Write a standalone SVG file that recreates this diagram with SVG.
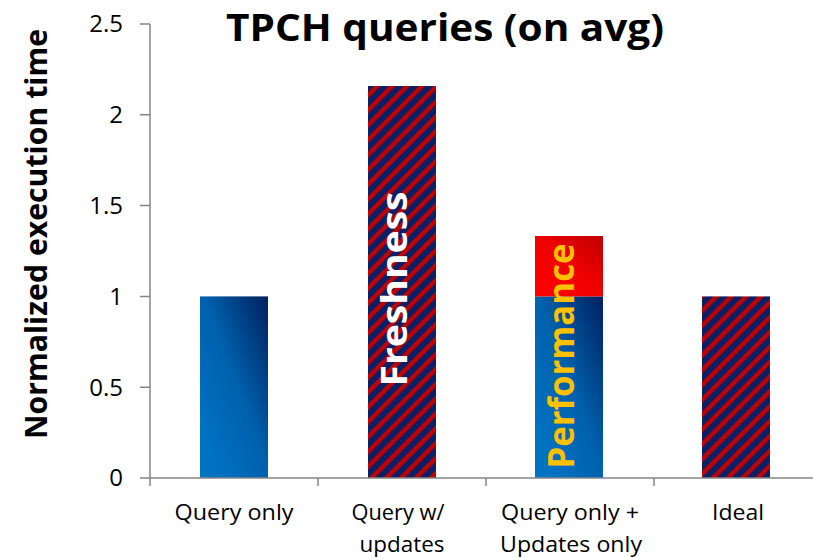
<svg xmlns="http://www.w3.org/2000/svg" width="813" height="557" viewBox="0 0 813 557">
<style>
.ax{stroke:#868686;stroke-width:1.5;fill:none}
.tick{font-family:"Open Sans","Liberation Sans",sans-serif;font-size:24px;fill:#000;text-anchor:end}
.cat{font-family:"Open Sans","Liberation Sans",sans-serif;font-size:22px;fill:#000;text-anchor:middle}
.title{font-family:"Open Sans","Liberation Sans",sans-serif;font-weight:bold;fill:#000}
.inbar{font-family:"Open Sans","Liberation Sans",sans-serif;font-weight:bold;text-anchor:middle}
</style>
<defs>
<linearGradient id="blue" x1="0.15" y1="0.85" x2="1" y2="0">
<stop offset="0" stop-color="#0072C2"/>
<stop offset="0.45" stop-color="#0060AC"/>
<stop offset="1" stop-color="#00205E"/>
</linearGradient>
<linearGradient id="red" x1="0.1" y1="1" x2="1" y2="0">
<stop offset="0" stop-color="#FF0000"/>
<stop offset="0.5" stop-color="#F00000"/>
<stop offset="1" stop-color="#C00000"/>
</linearGradient>
<pattern id="hatch" patternUnits="userSpaceOnUse" width="10.5" height="10.5" patternTransform="rotate(-45)">
<rect width="10.5" height="10.5" fill="#0B1F64"/>
<rect width="10.5" height="4.4" fill="#C00000"/>
</pattern>
</defs>
<rect width="813" height="557" fill="#fff"/>

<g id="title">
<text class="title" x="445" y="41" font-size="38" text-anchor="middle" textLength="438" lengthAdjust="spacingAndGlyphs">TPCH queries (on avg)</text>
</g>

<g id="y-axis-title">
<text class="title" transform="translate(47,234) rotate(-90)" font-size="30" text-anchor="middle" textLength="410" lengthAdjust="spacingAndGlyphs">Normalized execution time</text>
</g>

<g id="bar-query-only">
<rect x="200" y="296.4" width="68" height="181.6" fill="url(#blue)"/>
</g>

<g id="bar-query-w-updates">
<rect x="368" y="86" width="68" height="392" fill="url(#hatch)"/>
<text class="inbar" transform="translate(407,289) rotate(-90)" font-size="35" fill="#FFFFFF" textLength="195" lengthAdjust="spacingAndGlyphs">Freshness</text>
</g>

<g id="bar-query-only-plus-updates-only">
<rect x="535" y="296.4" width="68" height="181.6" fill="url(#blue)"/>
<rect x="535" y="236" width="68" height="60.4" fill="url(#red)"/>
<text class="inbar" transform="translate(574,356) rotate(-90)" font-size="36" fill="#FFC000" textLength="225" lengthAdjust="spacingAndGlyphs">Performance</text>
</g>

<g id="bar-ideal">
<rect x="702" y="296.4" width="68" height="181.6" fill="url(#hatch)"/>
</g>

<g id="axes">
<path class="ax" d="M150,24 V478 M140,478 H813 M140,24 H150 M140,114.8 H150 M140,205.6 H150 M140,296.4 H150 M140,387.2 H150 M150,478 V486 M318,478 V486 M486,478 V486 M654,478 V486"/>
<text class="tick" x="123" y="32">2.5</text>
<text class="tick" x="123" y="123">2</text>
<text class="tick" x="123" y="214">1.5</text>
<text class="tick" x="123" y="305">1</text>
<text class="tick" x="123" y="396">0.5</text>
<text class="tick" x="123" y="486">0</text>
<text class="cat" x="234" y="520" textLength="119" lengthAdjust="spacingAndGlyphs">Query only</text>
<text class="cat" x="398" y="520" textLength="93" lengthAdjust="spacingAndGlyphs">Query w/</text>
<text class="cat" x="402" y="552" textLength="85" lengthAdjust="spacingAndGlyphs">updates</text>
<text class="cat" x="570" y="520" textLength="138" lengthAdjust="spacingAndGlyphs">Query only +</text>
<text class="cat" x="571" y="552" textLength="142" lengthAdjust="spacingAndGlyphs">Updates only</text>
<text class="cat" x="738" y="520" textLength="52" lengthAdjust="spacingAndGlyphs">Ideal</text>
</g>
</svg>
